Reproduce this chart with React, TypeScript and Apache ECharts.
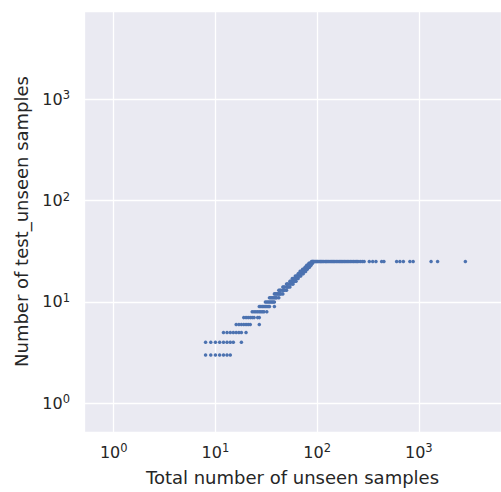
import React, { useEffect, useRef } from "react";
import * as echarts from "echarts";

// y value of each row (test_unseen count) and the x values (total unseen) in that row
const rowY = [3, 4, 5, 6, 7, 8, 9, 10, 11, 12, 13, 14, 15, 16, 17, 18, 19, 20, 21, 22, 23, 24, 25];
const rowX: number[][] = [
  [8, 9, 10, 11, 12, 13, 14],
  [8, 9, 10, 11, 12, 13, 14, 15, 18],
  [12, 13, 14, 15, 16, 17, 18, 20],
  [16, 17, 18, 19, 20, 21, 22, 27],
  [19, 20, 21, 22, 23, 24, 26, 27],
  [23, 24, 25, 26, 27, 28, 29, 30, 32],
  [27, 28, 29, 30, 31, 32, 33, 34, 38],
  [31, 32, 33, 34, 35, 36, 37, 38],
  [34, 35, 36, 37, 38, 39, 40, 42],
  [38, 39, 40, 41, 42, 43, 44, 46],
  [42, 43, 44, 46, 47, 48, 50],
  [46, 47, 48, 50, 51, 52, 54],
  [50, 51, 52, 54, 55, 57, 58],
  [54, 55, 57, 58, 60, 62],
  [57, 59, 60, 62, 63, 65],
  [61, 63, 64, 66, 67, 69],
  [65, 67, 68, 70, 71, 73],
  [68, 70, 72, 74, 75, 77],
  [72, 74, 75, 77, 78, 80],
  [76, 78, 79, 81, 82, 84],
  [79, 81, 83, 84, 86, 87],
  [83, 85, 86, 88, 89, 90],
  [88, 90, 91, 92, 94, 96, 98, 100, 102, 105, 108, 110, 113, 116, 120, 123, 126, 130, 134, 138,
   142, 146, 150, 155, 160, 165, 170, 175, 180, 186, 192, 198, 205, 212, 220, 228, 236, 245, 252,
   265, 278, 290, 326, 352, 379, 431, 454, 605, 652, 705, 817, 880, 1320, 1530, 2870],
];

const xRange = [0.51, 6430];
const yRange = [0.521, 7400];

const xTitle = "Total number of unseen samples";
const yTitle = "Number of test_unseen samples";

const FONT = "DejaVu Sans";
const TEXT = "#262626";

function powLabel(v: number) {
  const e = Math.log10(v);
  if (Math.abs(e - Math.round(e)) > 1e-6) return "";
  return `{b|10}{s|${Math.round(e)}}`;
}

const rich = {
  b: { fontSize: 16, fontFamily: FONT, color: TEXT, lineHeight: 20 },
  s: { fontSize: 11.5, fontFamily: FONT, color: TEXT, verticalAlign: "top", lineHeight: 12 },
};

export default function App() {
  const ref = useRef<HTMLDivElement>(null);
  useEffect(() => {
    if (!ref.current) return;
    const chart = echarts.init(ref.current, undefined, { renderer: "svg" });
    const data: number[][] = [];
    rowY.forEach((y, i) => rowX[i].forEach((x) => data.push([x, y])));
    chart.setOption({
      animation: false,
      backgroundColor: "#ffffff",
      textStyle: { fontFamily: FONT, color: TEXT },
      grid: {
        left: 84,
        right: 0,
        top: 11,
        bottom: 60,
        show: true,
        backgroundColor: "#EAEAF2",
        borderWidth: 0,
      },
      xAxis: {
        type: "log",
        logBase: 10,
        min: xRange[0],
        max: xRange[1],
        name: xTitle,
        nameLocation: "middle",
        nameGap: 36,
        nameTextStyle: { fontSize: 18, fontFamily: FONT, color: TEXT },
        axisLine: { show: false },
        axisTick: { show: false },
        minorTick: { show: false },
        splitLine: { show: true, lineStyle: { color: "#ffffff", width: 1.3 } },
        axisLabel: {
          margin: 10,
          showMinLabel: false,
          showMaxLabel: false,
          formatter: powLabel,
          rich,
        },
      },
      yAxis: {
        type: "log",
        logBase: 10,
        min: yRange[0],
        max: yRange[1],
        name: yTitle,
        nameLocation: "middle",
        nameRotate: 90,
        nameGap: 54,
        nameTextStyle: { fontSize: 18, fontFamily: FONT, color: TEXT },
        axisLine: { show: false },
        axisTick: { show: false },
        minorTick: { show: false },
        splitLine: { show: true, lineStyle: { color: "#ffffff", width: 1.3 } },
        axisLabel: {
          margin: 14,
          showMinLabel: false,
          showMaxLabel: false,
          formatter: powLabel,
          rich,
        },
      },
      series: [
        {
          type: "scatter",
          data,
          symbol: "circle",
          symbolSize: 3.5,
          itemStyle: { color: "#4C72B0", opacity: 1 },
          silent: true,
        },
      ],
    });
    return () => chart.dispose();
  }, []);
  return (
    <div
      ref={ref}
      style={{ position: "absolute", left: 0, top: 0, width: 501, height: 492 }}
    />
  );
}
